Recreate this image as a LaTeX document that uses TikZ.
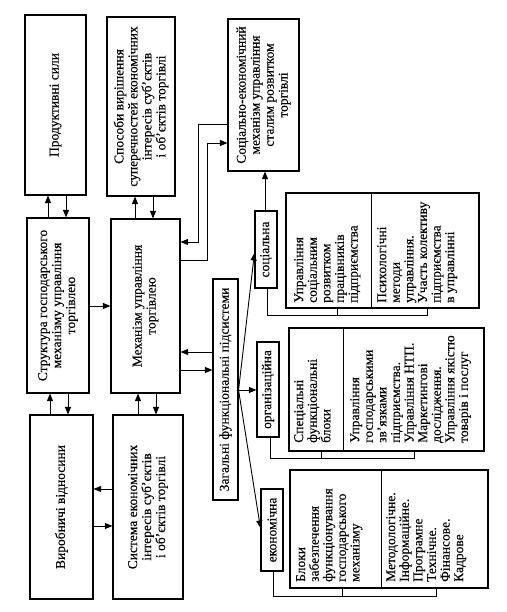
\documentclass[tikz,border=0pt]{standalone}
\usepackage{fontspec}
\setmainfont{Liberation Serif}[FakeBold=0.2]
\usetikzlibrary{arrows.meta}
\begin{document}
\begin{tikzpicture}[x=1pt,y=-1pt,
  box/.style={draw, line width=1.1pt, inner sep=0pt},
  txt/.style={rotate=90, align=center, inner sep=0pt, font=\fontsize{13.5}{14}\selectfont},
  ctxt/.style={rotate=90, align=left, inner sep=0pt, anchor=north west, font=\fontsize{13.5}{13.6}\selectfont},
  arr/.style={line width=0.9pt, -{Triangle[length=7.5pt,width=6pt]}},
  ln/.style={line width=0.9pt}]
\useasboundingbox[fill=white] (0,0) rectangle (506,612);

% main boxes
\node[box, minimum width=61pt, minimum height=180pt] (prod) at (55.5,105) {};
\node[box, minimum width=68pt, minimum height=179pt] (sposoby) at (141,106.5) {};
\node[box, minimum width=71pt, minimum height=152pt] (soc) at (263.5,95) {};
\node[box, minimum width=62pt, minimum height=175pt] (struct) at (58,305.5) {};
\node[box, minimum width=69pt, minimum height=174pt] (mech) at (145.5,306) {};
\node[box, minimum width=63pt, minimum height=184pt] (vyrob) at (61.5,507) {};
\node[box, minimum width=70pt, minimum height=184pt] (systema) at (148,507) {};
\node[box, minimum width=25pt, minimum height=221pt] (zahalni) at (225.5,389.5) {};
\node[box, minimum width=22pt, minimum height=77pt] (socialna) at (266,249.5) {};
\node[box, minimum width=22pt, minimum height=95pt] (orhan) at (268,389.5) {};
\node[box, minimum width=22pt, minimum height=82pt] (ekon) at (272,530) {};
\node[box, minimum width=193pt, minimum height=115pt] (soctab) at (382.5,250.5) {};
\node[box, minimum width=195pt, minimum height=123pt] (orgtab) at (386.5,389.5) {};
\node[box, minimum width=198pt, minimum height=118pt] (ekontab) at (389,529) {};

% texts
\node[txt] (prodT) at (prod.center) {Продуктивні сили};
\node[txt] (sposobyT) at (sposoby.center) {Способи вирішення\\суперечностей економічних\\інтересів суб’єктів\\і об’єктів торгівлі};
\node[txt] (socT) at (soc.center) {Соціально-економічний\\механізм управління\\сталим розвитком\\торгівлі};
\node[txt] (structT) at (struct.center) {Структура господарського\\механізму управління\\торгівлею};
\node[txt] (mechT) at (mech.center) {Механізм управління\\торгівлею};
\node[txt] (vyrobT) at (vyrob.center) {Виробничі відносини};
\node[txt] (systemaT) at (systema.center) {Система економічних\\інтересів суб’єктів\\і об’єктів торгівлі};
\node[txt] (zahalniT) at (zahalni.center) {Загальні функціональні підсистеми};
\node[txt] (socialnaT) at (socialna.center) {соціальна};
\node[txt] (orhanT) at (orhan.center) {організаційна};
\node[txt] (ekonT) at (ekon.center) {економічна};

% table cells
\draw[ln] (soctab.north -| 371,0) -- (soctab.south -| 371,0);
\draw[ln] (orgtab.north -| 343,0) -- (orgtab.south -| 343,0);
\draw[ln] (ekontab.north -| 381,0) -- (ekontab.south -| 381,0);

\node[ctxt] (socA) at (294,303) {Управління\\соціальним\\розвитком\\працівників\\підприємства};
\node[ctxt] (socB) at (377,303) {Психологічні\\методи\\управління.\\Участь колективу\\підприємства\\в управлінні};
\node[ctxt] (orgA) at (294,443) {Спеціальні\\функціональні\\блоки};
\node[ctxt] (orgB) at (350,443) {Управління\\господарськими\\зв’язками\\підприємства.\\Управління НТП.\\Маркетингові\\дослідження.\\Управління якістю\\товарів і послуг};
\node[ctxt] (ekA) at (296,582) {Блоки\\забезпечення\\функціонування\\господарського\\механізму};
\node[ctxt] (ekB) at (386,582) {Методологічне.\\Інформаційне.\\Програмне\\Технічне.\\Фінансове.\\Кадрове};

% vertical arrow pairs
\draw[arr] (struct.north -| 48,0) -- (prod.south -| 48,0);
\draw[arr] (prod.south -| 66,0) -- (struct.north -| 66,0);
\draw[arr] (mech.north -| 135,0) -- (sposoby.south -| 135,0);
\draw[arr] (sposoby.south -| 153,0) -- (mech.north -| 153,0);
\draw[arr] (vyrob.north -| 50,0) -- (struct.south -| 50,0);
\draw[arr] (struct.south -| 68,0) -- (vyrob.north -| 68,0);
\draw[arr] (systema.north -| 138,0) -- (mech.south -| 138,0);
\draw[arr] (mech.south -| 156,0) -- (systema.north -| 156,0);

% horizontal arrows
\draw[arr] (struct.east |- 0,306) -- (mech.west |- 0,306);
\draw[arr] (systema.west |- 0,489) -- (vyrob.east |- 0,489);
\draw[arr] (vyrob.east |- 0,526) -- (systema.west |- 0,526);
\draw[arr] (zahalni.west |- 0,352) -- (mech.east |- 0,352);
\draw[arr] (mech.east |- 0,370) -- (zahalni.west |- 0,370);

% elbow connectors with the top right box
\draw[arr] (soc.west |- 0,124) -- (198,124) -- (198,242) -- (mech.east |- 0,242);
\draw[arr] (mech.east |- 0,260) -- (207,260) -- (207,143) -- (soc.west |- 0,143);
\draw[arr] (socialna.north -| 265,0) -- (soc.south -| 265,0);

% fan from the general subsystems
\coordinate (hub) at (zahalni.east |- 0,390);
\draw[arr] (hub) -- (socialna.west |- 0,253);
\draw[arr] (hub) -- (orhan.west |- 0,390);
\draw[arr] (hub) -- (ekon.west |- 0,528);

% brackets
\draw[ln] (socialna.south -| 267,0) -- (267,315) -| (soctab.south -| 427,0);
\draw[ln] (337,315) -- (soctab.south -| 337,0);
\draw[ln] (orhan.south -| 270,0) -- (270,458) -| (orgtab.south -| 414,0);
\draw[ln] (321,458) -- (orgtab.south -| 321,0);
\draw[ln] (ekon.south -| 273,0) -- (273,596) -| (ekontab.south -| 436,0);
\draw[ln] (342,596) -- (ekontab.south -| 342,0);
\end{tikzpicture}
\end{document}
